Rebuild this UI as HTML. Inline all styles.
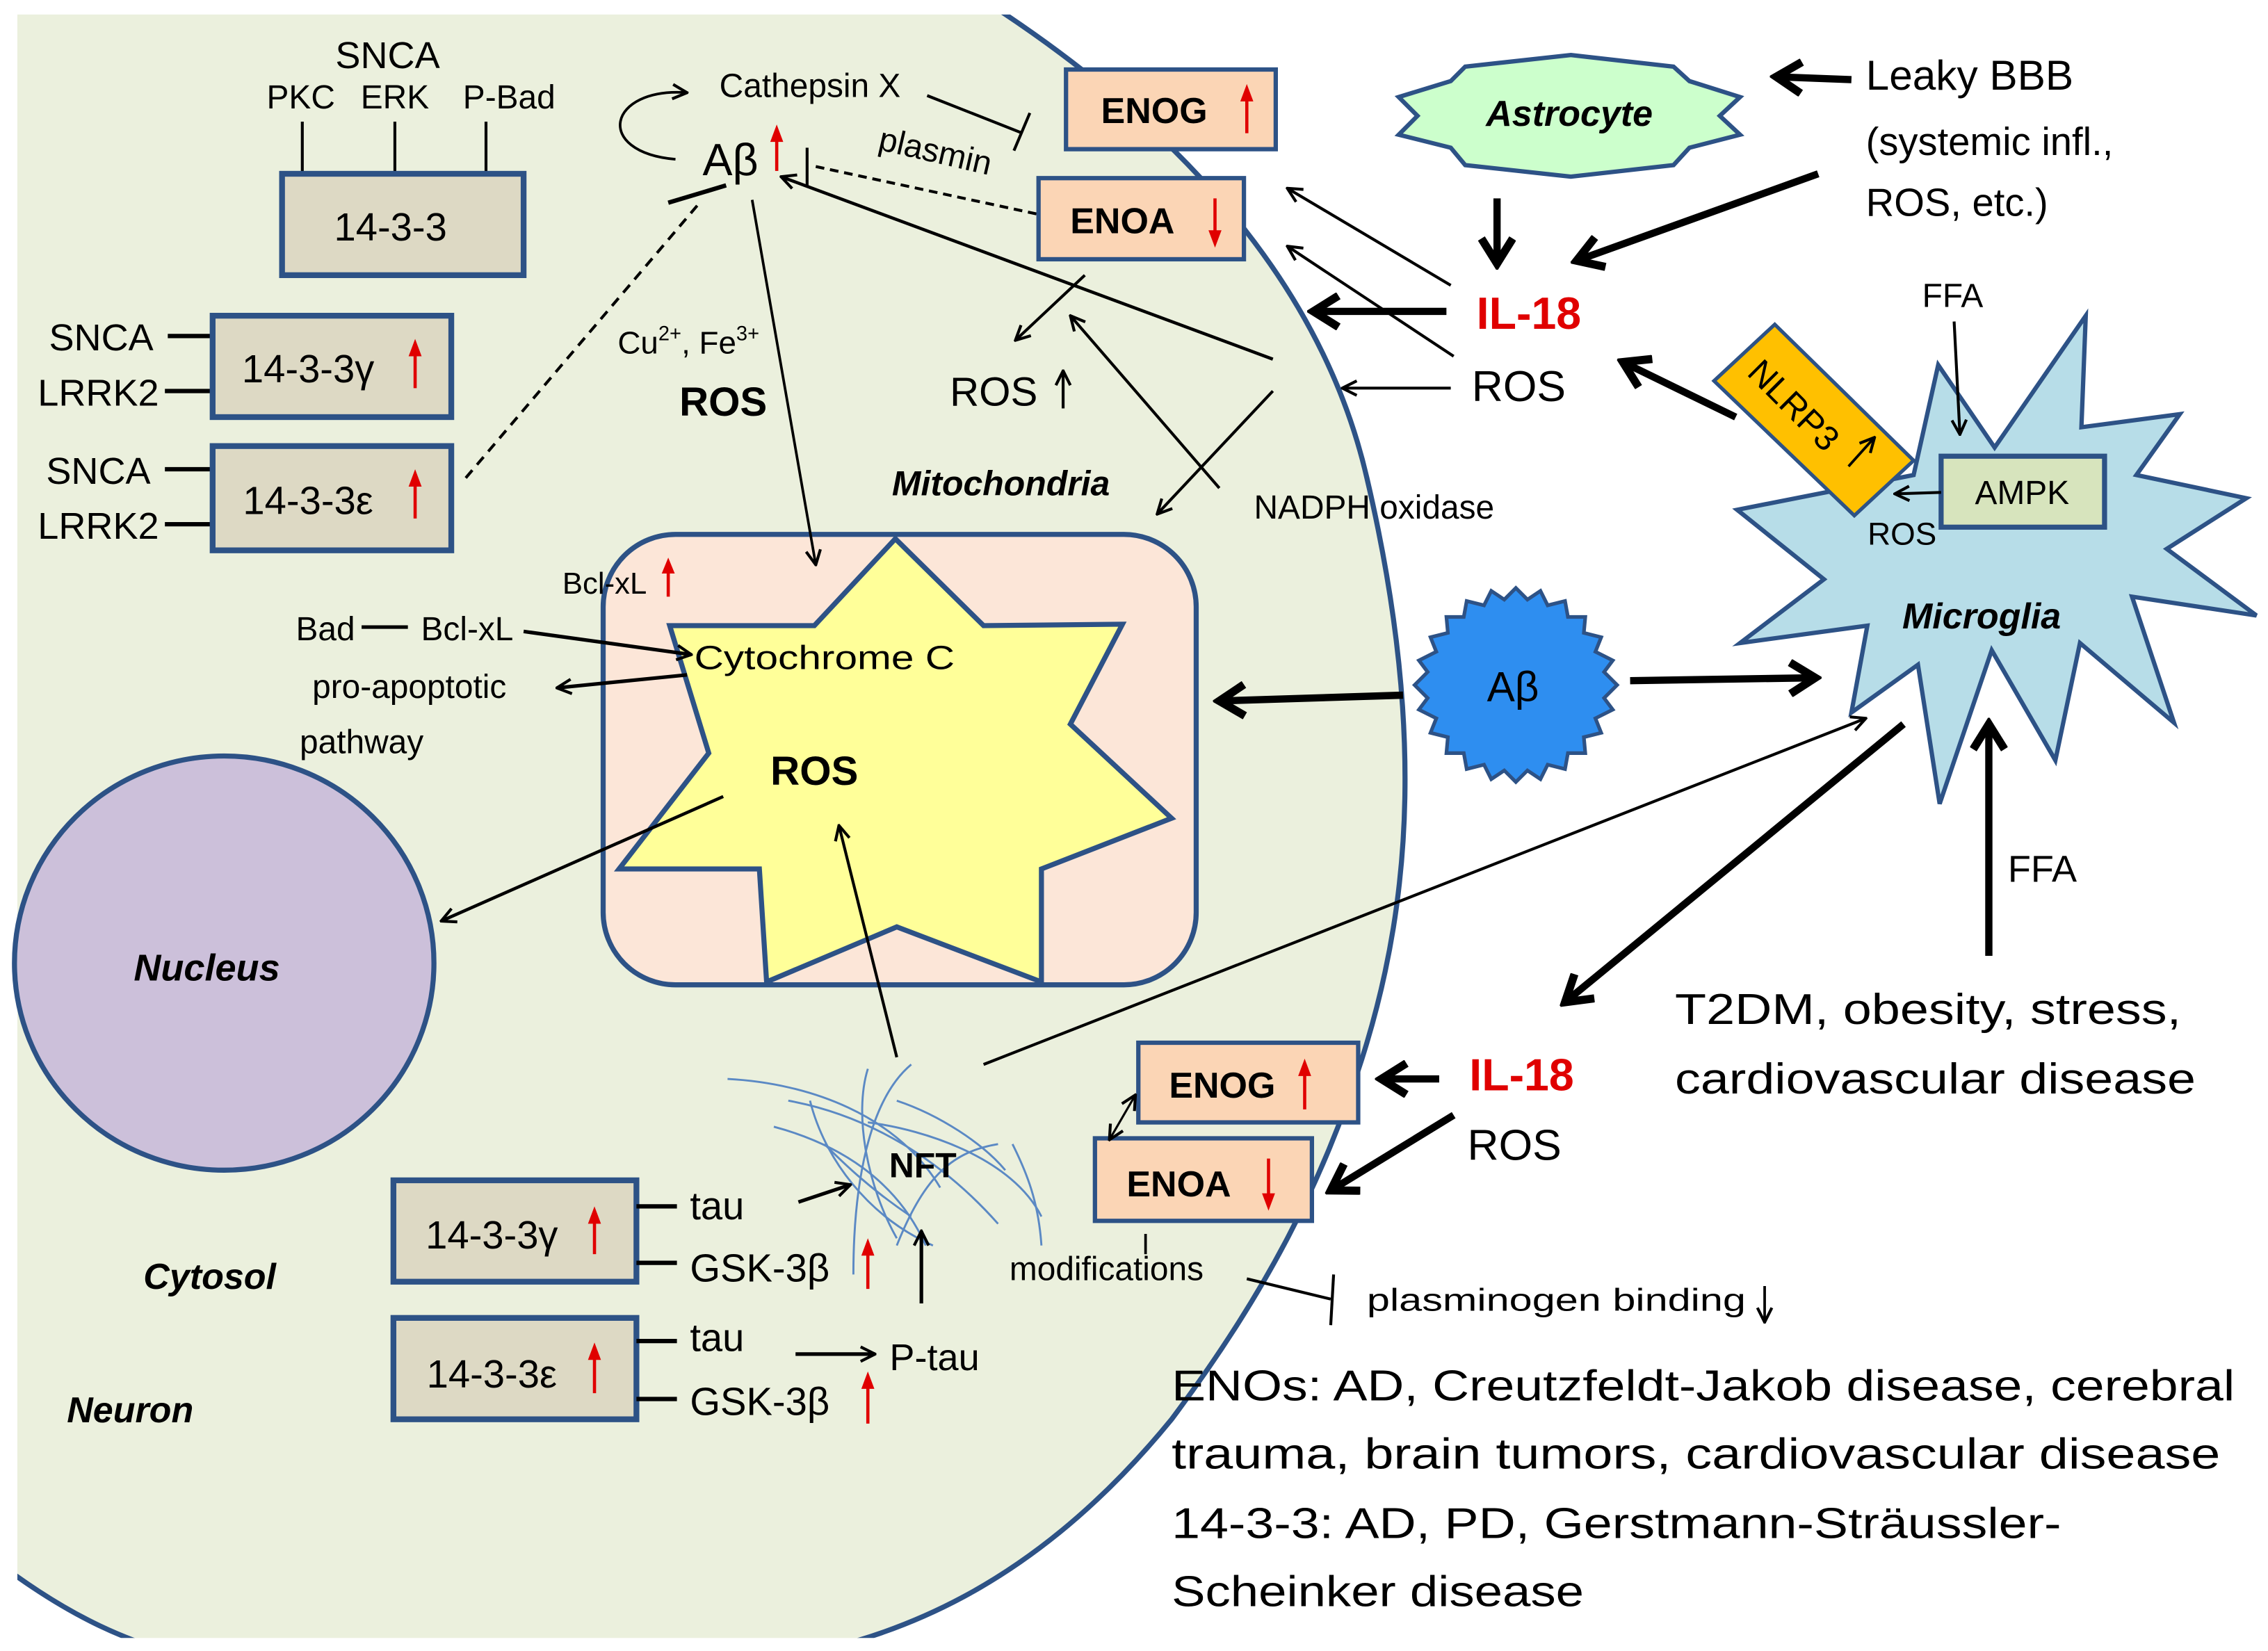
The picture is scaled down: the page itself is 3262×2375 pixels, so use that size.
<!DOCTYPE html>
<html><head><meta charset="utf-8">
<style>
html,body{margin:0;padding:0;background:#fff;}
svg{display:block;}
text{font-family:"Liberation Sans",sans-serif;fill:#000;}
.b{font-weight:bold;}
.bi{font-weight:bold;font-style:italic;}
.r{fill:#e00000;}
.rl{stroke:#e00000;stroke-width:2.2;}
.rh{fill:#e00000;}
</style></head><body>
<svg width="3262" height="2375" viewBox="0 0 1568 1140" preserveAspectRatio="none" xmlns="http://www.w3.org/2000/svg">
<defs>
<clipPath id="cl"><rect x="12" y="10" width="1550" height="1121"/></clipPath>
<marker id="a" viewBox="0 0 12 12" refX="11" refY="6" markerWidth="12" markerHeight="12" markerUnits="userSpaceOnUse" orient="auto"><path d="M1,1 L11,6 L1,11" fill="none" stroke="#000" stroke-width="2"/></marker>
<marker id="as" viewBox="0 0 12 12" refX="11" refY="6" markerWidth="12" markerHeight="12" markerUnits="userSpaceOnUse" orient="auto-start-reverse"><path d="M1,1 L11,6 L1,11" fill="none" stroke="#000" stroke-width="2"/></marker>
<marker id="at" viewBox="0 0 12 12" refX="10" refY="6" markerWidth="26" markerHeight="26" markerUnits="userSpaceOnUse" orient="auto"><path d="M2,1 L10,6 L2,11" fill="none" stroke="#000" stroke-width="2.6"/></marker>
</defs>

<!-- neuron cell -->
<g clip-path="url(#cl)">
<path d="M680,0 C820,90 915,200 945,330 C985,500 975,620 945,720 C915,820 870,900 810,980 C720,1090 620,1140 500,1150 L160,1150 C90,1140 40,1110 0,1080 L0,0 Z" fill="#ebf0dd" stroke="#2d5286" stroke-width="3.5"/>
</g>

<!-- nucleus -->
<ellipse cx="155" cy="665" rx="145" ry="143" fill="#ccc0da" stroke="#2d5286" stroke-width="3.5"/>
<text x="143" y="677" font-size="26" text-anchor="middle" class="bi">Nucleus</text>

<!-- mitochondria -->
<rect x="417" y="369" width="410" height="311" rx="50" fill="#fce6d8" stroke="#2d5286" stroke-width="3.5"/>
<polygon points="619,372 680,432 776,431 740,500 810,565 720,600 720,678 620,640 530,678 525,600 428,600 490,520 463,432 563,432" fill="#ffff99" stroke="#2d5286" stroke-width="3.5"/>
<text x="563" y="542" font-size="28" class="b" text-anchor="middle">ROS</text>
<text x="570" y="462" font-size="23" text-anchor="middle" textLength="180" lengthAdjust="spacingAndGlyphs">Cytochrome C</text>
<text x="418" y="410" font-size="21" text-anchor="middle">Bcl-xL</text>
<line class="rl" x1="462" y1="412" x2="462" y2="395"/><polygon class="rh" points="457.5,396 462,385 466.5,396"/>
<text x="225" y="442" font-size="23" text-anchor="middle">Bad</text>
<line x1="250" y1="433" x2="282" y2="433" stroke="#000" stroke-width="2.5"/>
<text x="323" y="442" font-size="23" text-anchor="middle">Bcl-xL</text>
<line x1="362" y1="436" x2="478" y2="452" stroke="#000" stroke-width="2.5" marker-end="url(#a)"/>
<line x1="475" y1="466" x2="385" y2="475" stroke="#000" stroke-width="2.5" marker-end="url(#a)"/>
<text x="283" y="482" font-size="23" text-anchor="middle">pro-apoptotic</text>
<text x="250" y="520" font-size="23" text-anchor="middle">pathway</text>
<line x1="500" y1="550" x2="305" y2="636" stroke="#000" stroke-width="2.2" marker-end="url(#a)"/>

<!-- 14-3-3 top -->
<text x="268" y="47" font-size="26" text-anchor="middle">SNCA</text>
<text x="208" y="75" font-size="23" text-anchor="middle">PKC</text>
<text x="273" y="75" font-size="23" text-anchor="middle">ERK</text>
<text x="352" y="75" font-size="23" text-anchor="middle">P-Bad</text>
<line x1="209" y1="84" x2="209" y2="122" stroke="#000" stroke-width="2"/>
<line x1="273" y1="84" x2="273" y2="122" stroke="#000" stroke-width="2"/>
<line x1="336" y1="84" x2="336" y2="122" stroke="#000" stroke-width="2"/>
<rect x="195" y="120" width="167" height="70" fill="#ddd9c4" stroke="#2d5286" stroke-width="4"/>
<text x="270" y="166" font-size="27" text-anchor="middle">14-3-3</text>

<text x="70" y="242" font-size="26" text-anchor="middle">SNCA</text>
<line x1="116" y1="232" x2="147" y2="232" stroke="#000" stroke-width="3"/>
<text x="68" y="280" font-size="26" text-anchor="middle">LRRK2</text>
<line x1="114" y1="270" x2="147" y2="270" stroke="#000" stroke-width="3"/>
<rect x="147" y="218" width="165" height="70" fill="#ddd9c4" stroke="#2d5286" stroke-width="4"/>
<text x="213" y="264" font-size="27" text-anchor="middle">14-3-3γ</text>
<line class="rl" x1="287" y1="268" x2="287" y2="245"/><polygon class="rh" points="282.5,246 287,234 291.5,246"/>

<text x="68" y="334" font-size="26" text-anchor="middle">SNCA</text>
<line x1="114" y1="324" x2="147" y2="324" stroke="#000" stroke-width="3"/>
<text x="68" y="372" font-size="26" text-anchor="middle">LRRK2</text>
<line x1="114" y1="362" x2="147" y2="362" stroke="#000" stroke-width="3"/>
<rect x="147" y="308" width="165" height="72" fill="#ddd9c4" stroke="#2d5286" stroke-width="4"/>
<text x="213" y="355" font-size="27" text-anchor="middle">14-3-3ε</text>
<line class="rl" x1="287" y1="358" x2="287" y2="335"/><polygon class="rh" points="282.5,336 287,324 291.5,336"/>

<line x1="322" y1="330" x2="482" y2="142" stroke="#000" stroke-width="2" stroke-dasharray="7,5"/>
<line x1="462" y1="140" x2="502" y2="128" stroke="#000" stroke-width="3"/>

<!-- Abeta top -->
<text x="505" y="121" font-size="31" text-anchor="middle">Aβ</text>
<line class="rl" x1="537" y1="118" x2="537" y2="97"/><polygon class="rh" points="532.5,98 537,86 541.5,98"/>
<path d="M467,110 C410,105 420,60 475,64" fill="none" stroke="#000" stroke-width="1.8" marker-end="url(#a)"/>
<text x="560" y="67" font-size="23" text-anchor="middle">Cathepsin X</text>
<line x1="641" y1="66" x2="707" y2="92" stroke="#000" stroke-width="2"/>
<line x1="701" y1="104" x2="712" y2="78" stroke="#000" stroke-width="2"/>
<line x1="558" y1="102" x2="558" y2="128" stroke="#000" stroke-width="2"/>
<line x1="564" y1="115" x2="718" y2="148" stroke="#000" stroke-width="2" stroke-dasharray="6,4"/>
<text x="645" y="112" font-size="23" text-anchor="middle" transform="rotate(13 645 112)">plasmin</text>
<rect x="737" y="48" width="145" height="55" fill="#fbd5b5" stroke="#2d5286" stroke-width="3"/>
<text x="798" y="85" font-size="25" class="b" text-anchor="middle">ENOG</text>
<line class="rl" x1="862" y1="92" x2="862" y2="69"/><polygon class="rh" points="857.5,70 862,58 866.5,70"/>
<rect x="718" y="123" width="142" height="56" fill="#fbd5b5" stroke="#2d5286" stroke-width="3"/>
<text x="776" y="161" font-size="25" class="b" text-anchor="middle">ENOA</text>
<line class="rl" x1="840" y1="137" x2="840" y2="160"/><polygon class="rh" points="835.5,159 840,171 844.5,159"/>

<line x1="880" y1="248" x2="540" y2="122" stroke="#000" stroke-width="2.2" marker-end="url(#a)"/>
<line x1="520" y1="138" x2="564" y2="390" stroke="#000" stroke-width="1.8" marker-end="url(#a)"/>
<text x="476" y="244" font-size="22" text-anchor="middle">Cu<tspan font-size="14" dy="-9">2+</tspan><tspan dy="9">, Fe</tspan><tspan font-size="14" dy="-9">3+</tspan></text>
<text x="500" y="287" font-size="28" class="b" text-anchor="middle">ROS</text>
<text x="687" y="280" font-size="28" text-anchor="middle">ROS</text>
<line x1="735" y1="282" x2="735" y2="256" stroke="#000" stroke-width="2" marker-end="url(#a)"/>
<line x1="750" y1="190" x2="702" y2="235" stroke="#000" stroke-width="2" marker-end="url(#a)"/>
<line x1="843" y1="337" x2="740" y2="218" stroke="#000" stroke-width="2" marker-end="url(#a)"/>
<line x1="880" y1="270" x2="800" y2="355" stroke="#000" stroke-width="2" marker-end="url(#a)"/>
<text x="692" y="342" font-size="24" class="bi" text-anchor="middle">Mitochondria</text>
<text x="950" y="358" font-size="23" text-anchor="middle">NADPH oxidase</text>

<!-- IL-18 top -->
<line x1="1003" y1="197" x2="890" y2="130" stroke="#000" stroke-width="2" marker-end="url(#a)"/>
<line x1="1005" y1="246" x2="890" y2="170" stroke="#000" stroke-width="2" marker-end="url(#a)"/>
<line x1="1000" y1="215" x2="908" y2="215" stroke="#000" stroke-width="5" marker-end="url(#at)"/>
<line x1="1003" y1="268" x2="928" y2="268" stroke="#000" stroke-width="2" marker-end="url(#a)"/>
<text x="1057" y="227" font-size="31" class="b r" text-anchor="middle">IL-18</text>
<text x="1050" y="277" font-size="30" text-anchor="middle">ROS</text>

<!-- astrocyte -->
<polygon points="1086,38 1157,46 1168,56 1203,67 1189,80 1203,93 1168,102 1157,114 1086,122 1013,114 1003,102 967,93 980,80 967,67 1003,56 1013,46" fill="#ccffcc" stroke="#2d5286" stroke-width="3"/>
<text x="1085" y="87" font-size="25" class="bi" text-anchor="middle">Astrocyte</text>
<line x1="1035" y1="137" x2="1035" y2="182" stroke="#000" stroke-width="5" marker-end="url(#at)"/>
<line x1="1280" y1="55" x2="1228" y2="53" stroke="#000" stroke-width="5" marker-end="url(#at)"/>
<text x="1290" y="62" font-size="29">Leaky BBB</text>
<text x="1290" y="107" font-size="27">(systemic infl.,</text>
<text x="1290" y="149" font-size="27">ROS, etc.)</text>
<line x1="1257" y1="120" x2="1090" y2="180" stroke="#000" stroke-width="5" marker-end="url(#at)"/>

<!-- microglia -->
<polygon points="1340,252 1379,309 1442,218 1439,295 1507,286 1477,328 1553,344 1498,379 1560,425 1474,412 1503,499 1438,444 1421,525 1377,449 1341,555 1326,459 1280,492 1291,432 1203,444 1261,400 1201,352 1323,328" fill="#b7dde8" stroke="#2d5286" stroke-width="3"/>
<text x="1370" y="434" font-size="25" class="bi" text-anchor="middle">Microglia</text>
<rect x="1342" y="315" width="113" height="49" fill="#d7e4bd" stroke="#2d5286" stroke-width="3.5"/>
<text x="1398" y="348" font-size="23" text-anchor="middle">AMPK</text>
<line x1="1342" y1="340" x2="1310" y2="341" stroke="#000" stroke-width="2" marker-end="url(#a)"/>
<text x="1315" y="376" font-size="22" text-anchor="middle">ROS</text>
<polygon points="1185,263 1227,224 1323,318 1282,356" fill="#ffc000" stroke="#2d5286" stroke-width="2.5"/>
<text x="1240" y="288" font-size="24" text-anchor="middle" transform="rotate(45 1240 280)">NLRP3</text>
<line x1="1278" y1="322" x2="1296" y2="302" stroke="#000" stroke-width="1.8" marker-end="url(#a)"/>
<text x="1350" y="212" font-size="23" text-anchor="middle">FFA</text>
<line x1="1351" y1="222" x2="1355" y2="300" stroke="#000" stroke-width="2" marker-end="url(#a)"/>
<line x1="1200" y1="288" x2="1122" y2="250" stroke="#000" stroke-width="5" marker-end="url(#at)"/>

<!-- Abeta extracellular -->
<polygon fill="#2e8ef0" stroke="#2d5286" stroke-width="2.5" points="1118,473 1109,482 1115,490 1103,496 1107,506 1095,509 1096,520 1084,520 1082,531 1070,528 1065,538 1056,532 1048,540 1040,532 1031,538 1026,528 1014,531 1012,520 1000,520 1001,509 989,506 993,496 981,490 987,482 978,473 987,464 981,456 993,450 989,440 1001,437 1000,426 1012,426 1014,415 1026,418 1031,408 1040,414 1048,406 1056,414 1065,408 1070,418 1082,415 1084,426 1096,426 1095,437 1107,440 1103,450 1115,456 1109,464"/>
<text x="1046" y="484" font-size="29" text-anchor="middle">Aβ</text>
<line x1="970" y1="480" x2="843" y2="484" stroke="#000" stroke-width="5" marker-end="url(#at)"/>
<line x1="1127" y1="470" x2="1255" y2="468" stroke="#000" stroke-width="5" marker-end="url(#at)"/>
<line x1="680" y1="735" x2="1290" y2="496" stroke="#000" stroke-width="2" marker-end="url(#a)"/>
<line x1="1316" y1="500" x2="1082" y2="692" stroke="#000" stroke-width="5" marker-end="url(#at)"/>
<line x1="1375" y1="660" x2="1375" y2="500" stroke="#000" stroke-width="5" marker-end="url(#at)"/>
<text x="1412" y="609" font-size="26" text-anchor="middle">FFA</text>
<text x="1158" y="707" font-size="30" textLength="350" lengthAdjust="spacingAndGlyphs">T2DM, obesity, stress,</text>
<text x="1158" y="755" font-size="30" textLength="360" lengthAdjust="spacingAndGlyphs">cardiovascular disease</text>

<!-- lower ENO -->
<text x="1052" y="753" font-size="31" class="b r" text-anchor="middle">IL-18</text>
<text x="1047" y="801" font-size="30" text-anchor="middle">ROS</text>
<line x1="995" y1="745" x2="955" y2="745" stroke="#000" stroke-width="5" marker-end="url(#at)"/>
<line x1="1005" y1="770" x2="920" y2="822" stroke="#000" stroke-width="5" marker-end="url(#at)"/>
<rect x="787" y="720" width="152" height="55" fill="#fbd5b5" stroke="#2d5286" stroke-width="3"/>
<text x="845" y="758" font-size="25" class="b" text-anchor="middle">ENOG</text>
<line class="rl" x1="902" y1="766" x2="902" y2="742"/><polygon class="rh" points="897.5,743 902,731 906.5,743"/>
<rect x="757" y="786" width="150" height="57" fill="#fbd5b5" stroke="#2d5286" stroke-width="3"/>
<text x="815" y="826" font-size="25" class="b" text-anchor="middle">ENOA</text>
<line class="rl" x1="877" y1="800" x2="877" y2="825"/><polygon class="rh" points="872.5,824 877,836 881.5,824"/>
<line x1="785" y1="756" x2="767" y2="787" stroke="#000" stroke-width="1.5" marker-start="url(#as)" marker-end="url(#a)"/>
<line x1="792" y1="852" x2="792" y2="866" stroke="#000" stroke-width="1.8"/>
<text x="765" y="884" font-size="23" text-anchor="middle">modifications</text>
<line x1="862" y1="883" x2="920" y2="897" stroke="#000" stroke-width="2"/>
<line x1="922" y1="880" x2="920" y2="915" stroke="#000" stroke-width="2"/>
<text x="945" y="905" font-size="22" textLength="262" lengthAdjust="spacingAndGlyphs">plasminogen binding</text>
<line x1="1220" y1="888" x2="1220" y2="913" stroke="#000" stroke-width="1.8" marker-end="url(#a)"/>

<text x="810" y="967" font-size="30" textLength="735" lengthAdjust="spacingAndGlyphs">ENOs: AD, Creutzfeldt-Jakob disease, cerebral</text>
<text x="810" y="1014" font-size="30" textLength="725" lengthAdjust="spacingAndGlyphs">trauma, brain tumors, cardiovascular disease</text>
<text x="810" y="1062" font-size="30" textLength="615" lengthAdjust="spacingAndGlyphs">14-3-3: AD, PD,  Gerstmann-Sträussler-</text>
<text x="810" y="1109" font-size="30" textLength="285" lengthAdjust="spacingAndGlyphs">Scheinker disease</text>

<!-- NFT -->
<g fill="none" stroke="#5b89c4" stroke-width="1.4">
<path d="M503,745 C560,748 620,770 650,820"/>
<path d="M545,760 C600,770 650,800 690,845"/>
<path d="M535,778 C580,790 620,815 640,860"/>
<path d="M600,775 C640,780 700,800 720,840"/>
<path d="M560,760 C570,800 600,840 645,860"/>
<path d="M620,760 C650,770 680,790 695,808"/>
<path d="M630,735 C600,760 590,820 590,880"/>
<path d="M600,738 C590,770 600,820 620,855"/>
<path d="M690,790 C660,795 640,810 620,860"/>
<path d="M700,790 C710,810 718,830 720,860"/>
<path d="M570,790 C580,800 600,820 630,840"/>
</g>
<text x="638" y="813" font-size="24" class="b" text-anchor="middle">NFT</text>
<line x1="620" y1="730" x2="580" y2="570" stroke="#000" stroke-width="2" marker-end="url(#a)"/>

<!-- 14-3-3 bottom -->
<rect x="272" y="815" width="168" height="70" fill="#ddd9c4" stroke="#2d5286" stroke-width="4"/>
<text x="340" y="862" font-size="27" text-anchor="middle">14-3-3γ</text>
<line class="rl" x1="411" y1="866" x2="411" y2="844"/><polygon class="rh" points="406.5,845 411,833 415.5,845"/>
<line x1="440" y1="833" x2="468" y2="833" stroke="#000" stroke-width="3"/>
<line x1="440" y1="872" x2="468" y2="872" stroke="#000" stroke-width="3"/>
<text x="477" y="842" font-size="27">tau</text>
<text x="477" y="885" font-size="27">GSK-3β</text>
<line class="rl" x1="600" y1="890" x2="600" y2="866"/><polygon class="rh" points="595.5,867 600,855 604.5,867"/>
<line x1="552" y1="830" x2="588" y2="818" stroke="#000" stroke-width="2.5" marker-end="url(#a)"/>
<rect x="272" y="910" width="168" height="70" fill="#ddd9c4" stroke="#2d5286" stroke-width="4"/>
<text x="340" y="958" font-size="27" text-anchor="middle">14-3-3ε</text>
<line class="rl" x1="411" y1="962" x2="411" y2="938"/><polygon class="rh" points="406.5,939 411,927 415.5,939"/>
<line x1="440" y1="926" x2="468" y2="926" stroke="#000" stroke-width="3"/>
<line x1="440" y1="966" x2="468" y2="966" stroke="#000" stroke-width="3"/>
<text x="477" y="933" font-size="27">tau</text>
<text x="477" y="977" font-size="27">GSK-3β</text>
<line class="rl" x1="600" y1="983" x2="600" y2="958"/><polygon class="rh" points="595.5,959 600,947 604.5,959"/>
<line x1="550" y1="935" x2="605" y2="935" stroke="#000" stroke-width="2.5" marker-end="url(#a)"/>
<text x="615" y="946" font-size="26">P-tau</text>
<line x1="637" y1="900" x2="637" y2="850" stroke="#000" stroke-width="2.5" marker-end="url(#a)"/>

<text x="145" y="890" font-size="25" class="bi" text-anchor="middle">Cytosol</text>
<text x="90" y="982" font-size="25" class="bi" text-anchor="middle">Neuron</text>
</svg>
</body></html>
